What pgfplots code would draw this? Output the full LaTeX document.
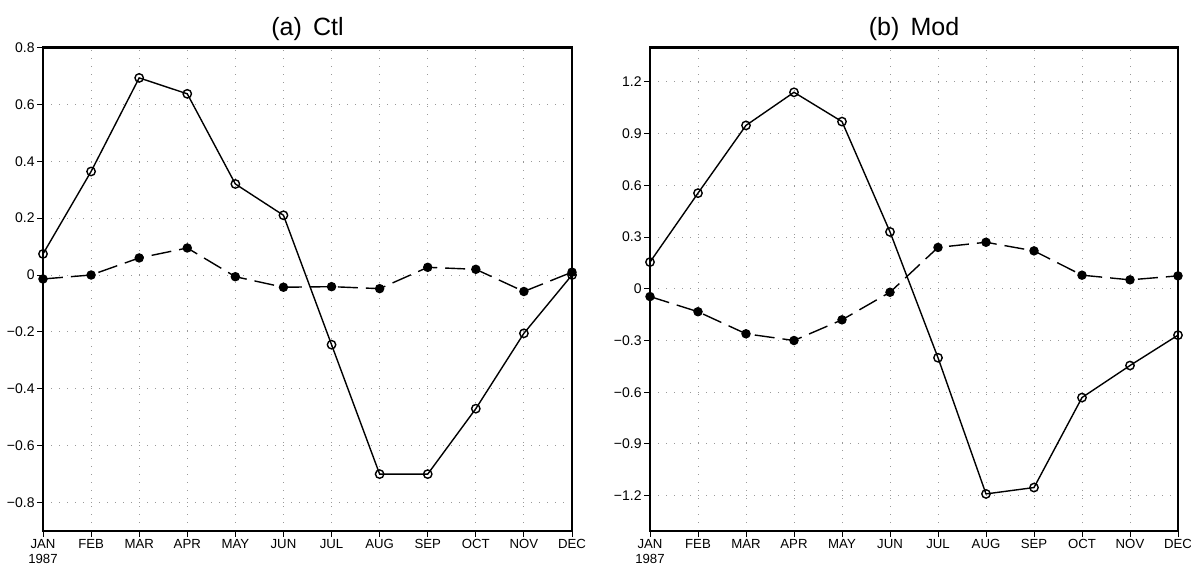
\documentclass[border=0pt]{standalone}
\usepackage{fontspec}
\setmainfont{Liberation Sans}
\usepackage{pgfplots}
\pgfplotsset{compat=1.18}

\pgfplotsset{
  monthaxis/.style={
    scale only axis,
    width=264.5pt, height=241.75pt,
    anchor=south west,
    xmin=0, xmax=11,
    xtick={0,1,2,3,4,5,6,7,8,9,10,11},
    xticklabels={{JAN\\1987},FEB,MAR,APR,MAY,JUN,JUL,AUG,SEP,OCT,NOV,DEC},
    x tick label style={align=center, font=\fontsize{6.6}{7.4}\selectfont, inner sep=1pt},
    y tick label style={font=\fontsize{7}{8}\selectfont, inner sep=1pt},
    /pgf/number format/assume math mode=true,
    xtick pos=bottom, ytick pos=left,
    tick align=outside, major tick length=3pt,
    tick style={black, line width=0.5pt},
    axis line style={line width=1.1pt},
    grid=major,
    major grid style={gray!80, line width=0.5pt, dash pattern=on 0.6pt off 3.4pt},
    title style={font=\fontsize{12.5}{14}\selectfont, anchor=base, at={(0.5,1)}},
  },
  ctl/.style={black, line width=0.7pt, mark=o, mark size=2.1pt, mark options={fill=white, solid}},
  mod/.style={black, line width=0.7pt, dash pattern=on 10pt off 4pt, mark=*, mark size=2pt, mark options={solid}},
}

\begin{document}
\begin{tikzpicture}
\path[use as bounding box] (-21.5pt,-17pt) rectangle (574pt,265.5pt);

\begin{axis}[monthaxis, at={(0pt,0pt)},
    title={(a)\hspace{0.45em}Ctl},
    ymin=-0.9, ymax=0.8,
    ytick={-0.8,-0.6,-0.4,-0.2,0,0.2,0.4,0.6,0.8},
    yticklabels={−0.8,−0.6,−0.4,−0.2,0,0.2,0.4,0.6,0.8}]
\addplot[ctl] coordinates {
  (0,0.074) (1,0.364) (2,0.693) (3,0.637) (4,0.32) (5,0.21)
  (6,-0.245) (7,-0.70) (8,-0.70) (9,-0.47) (10,-0.205) (11,0.0)
};
\addplot[mod] coordinates {
  (0,-0.014) (1,0.0) (2,0.06) (3,0.095) (4,-0.006) (5,-0.043)
  (6,-0.041) (7,-0.048) (8,0.027) (9,0.02) (10,-0.058) (11,0.01)
};
\end{axis}

\begin{axis}[monthaxis, at={(303.5pt,0pt)}, width=264pt,
    title={(b)\hspace{0.45em}Mod},
    ymin=-1.405, ymax=1.40,
    ytick={-1.2,-0.9,-0.6,-0.3,0,0.3,0.6,0.9,1.2},
    yticklabels={−1.2,−0.9,−0.6,−0.3,0,0.3,0.6,0.9,1.2}]
\addplot[ctl] coordinates {
  (0,0.155) (1,0.555) (2,0.948) (3,1.14) (4,0.97) (5,0.33)
  (6,-0.40) (7,-1.19) (8,-1.153) (9,-0.631) (10,-0.445) (11,-0.269)
};
\addplot[mod] coordinates {
  (0,-0.045) (1,-0.133) (2,-0.261) (3,-0.30) (4,-0.18) (5,-0.02)
  (6,0.24) (7,0.27) (8,0.22) (9,0.079) (10,0.052) (11,0.075)
};
\end{axis}
\end{tikzpicture}
\end{document}
